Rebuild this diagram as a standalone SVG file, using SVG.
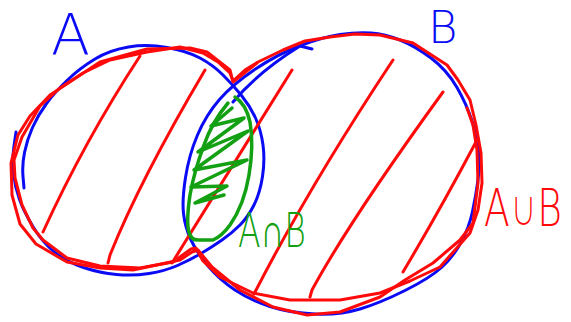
<svg xmlns="http://www.w3.org/2000/svg" width="571" height="322" viewBox="0 0 571 322">
<style>
.ink{fill:none;stroke-linecap:round;stroke-linejoin:round}
.blue{stroke:#0a0af5;stroke-width:3}
.red{stroke:#ff0a0a;stroke-width:3}
.green{stroke:#13a013;stroke-width:3.5}
.lbl{font-family:"DejaVu Sans","Liberation Sans",sans-serif;font-weight:300}
.op{font-weight:normal;stroke:#ffffff;stroke-width:2.2}
</style>
<rect width="571" height="322" fill="#ffffff"/>
<g id="setA">
<path class="ink blue" d="M16,132 L14,146 Q12,160 13.5,173.5 Q15,187 19.5,199.5 Q24,212 33.5,227.5 Q43,243 55,252.5 Q67,262 83.5,267.5 Q100,273 116.5,274.5 Q133,276 149,273.5 Q165,271 177.5,265.5 Q190,260 201,253.5 Q212,247 222,240 Q232,233 240,225 Q248,217 254,205 Q260,193 262.5,176.5 Q265,160 263,145 Q261,130 255.5,118 Q250,106 241.5,95.5 Q233,85 223,75 Q213,65 200,58 Q187,51 167,47.5 Q147,44 128.5,47 Q110,50 95,59 Q80,68 67.5,80 Q55,92 46.5,103.5 Q38,115 32.5,127.5 Q27,140 24.5,152.5 Q22,165 23,176.5 L24,188"/>
</g>
<g id="setB">
<path class="ink blue" d="M185.5,177.5 Q189,155 197.5,135 Q206,115 219.5,99.5 Q233,84 255.5,69 Q278,54 300.5,45.5 Q323,37 340,34.5 Q357,32 371,33 Q385,34 400,40 Q415,46 431,58 Q447,70 457,87.5 Q467,105 472,121 Q477,137 478.5,151 Q480,165 478,180 Q476,195 472.5,211.5 Q469,228 461,242.5 Q453,257 441.5,267.5 Q430,278 405,290.5 Q380,303 360,309 Q340,315 315,314 Q290,313 270,306.5 Q250,300 235,290 Q220,280 208.5,266.5 Q197,253 191,240 Q185,227 183.5,213.5 Q182,200 185.5,177.5"/>
<path class="ink blue" d="M233,102 Q258,72 300,46 L312,49"/>
</g>
<g id="union">
<polyline class="ink red" points="233,81 245,70 258,62 283,50 305,41 330,37 355,34 380,35 413,43 447,65 458,80 470,100 476,125 481,153 482,183 478,210 470,233 455,250 440,267 410,281 380,293 340,300 290,300 253,293 220,277 203,261 196,248 191,249 173,262 140,268 100,266 67,258 43,240 33,228 22,205 15,178 14,160 22,137 40,106 60,88 83,73 110,60 147,52 180,47 203,53 218,62 230,73 233,81"/>
<polyline class="ink red" points="467,108 473,125 477,150 478,183 473,223 460,240 433,263 405,280 380,297 340,312 307,315 273,307 240,290 212,267 198,250 192,252 180,260 133,270 100,268 67,262 36,244 20,224 12,195 11,163 18,135 30,116 50,95 100,62 147,49 190,48 207,52 230,70 233,82 257,63"/>
</g>
<g id="hatching">
<path class="ink red" d="M140,56 Q85,140 43,232"/>
<path class="ink red" d="M205,70 Q140,180 110,255 L108,263"/>
<path class="ink red" d="M292,70 L172,263"/>
<path class="ink red" d="M393,60 Q310,185 254,294"/>
<path class="ink red" d="M443,92 Q350,220 312,290 L310,297"/>
<path class="ink red" d="M477,140 Q440,210 403,272"/>
</g>
<g id="intersection">
<path class="ink green" d="M228,103 Q212,122 204,145 Q194,172 190,195 Q186,222 189,232 Q191,241 200,240 L213,240 Q222,236 230,225 Q244,205 249,175 Q254,145 250,122 Q246,104 235,97"/>
<polyline class="ink green" points="232,108 211,126 244,118 198,152 248,131 194,170 247,160 191,187 227,186 195,203 224,195"/>
</g>
<g id="labels">
<text class="lbl" x="51" y="55" font-size="57" fill="#0a0af5">A</text>
<text class="lbl" x="428" y="43" font-size="45" fill="#0a0af5">B</text>
<text class="lbl" x="238" y="247" font-size="48" fill="#13a013" textLength="68" lengthAdjust="spacingAndGlyphs">A∩B</text>
<text class="lbl" x="484" y="226" font-size="52" fill="#ff0a0a" textLength="78" lengthAdjust="spacingAndGlyphs">A<tspan class="op">∪</tspan>B</text>
</g>
</svg>
